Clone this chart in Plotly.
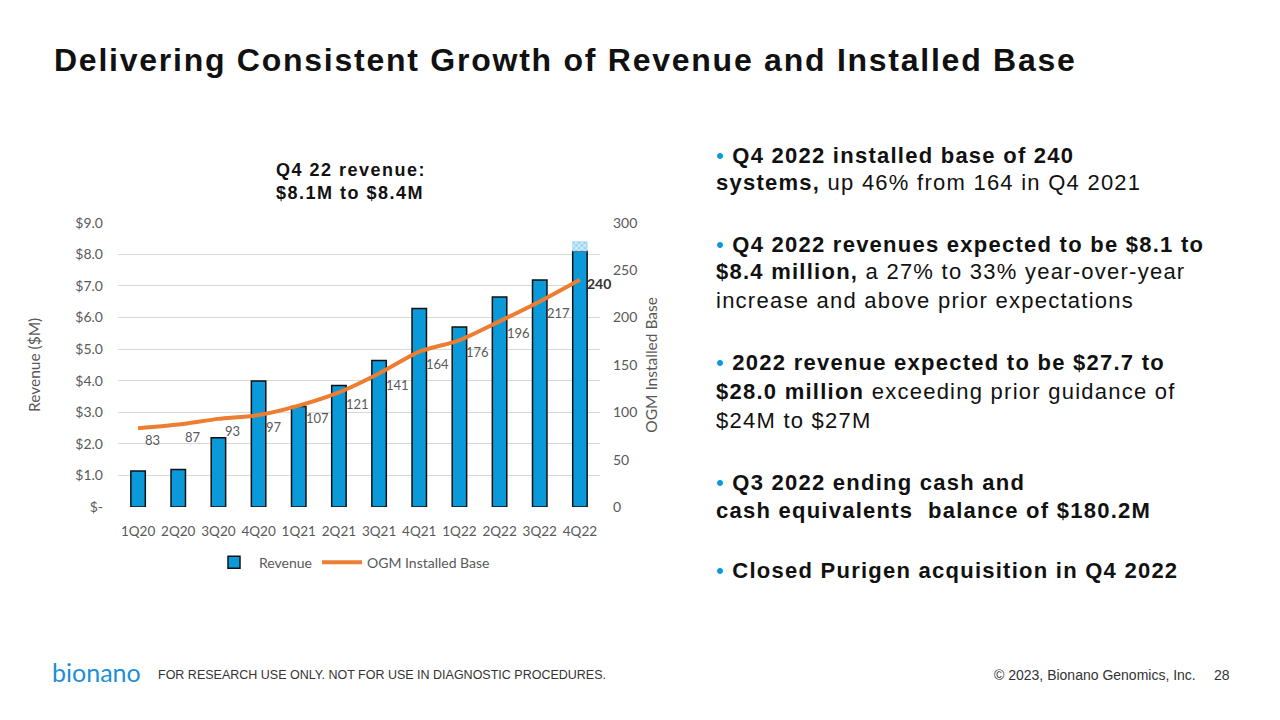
import plotly.graph_objects as go

quarters = ["1Q20", "2Q20", "3Q20", "4Q20", "1Q21", "2Q21", "3Q21", "4Q21", "1Q22", "2Q22", "3Q22", "4Q22"]
revenue = [1.14, 1.19, 2.19, 3.99, 3.18, 3.85, 4.64, 6.29, 5.70, 6.65, 7.19, 8.1]
revenue_range_top = 8.4  # upper end of Q4 22 guidance
installed_base = [83, 87, 93, 97, 107, 121, 141, 164, 176, 196, 217, 240]
left_ticks = [0, 1, 2, 3, 4, 5, 6, 7, 8, 9]
left_ticktext = ["$-", "$1.0", "$2.0", "$3.0", "$4.0", "$5.0", "$6.0", "$7.0", "$8.0", "$9.0"]
right_ticks = [0, 50, 100, 150, 200, 250, 300]

BLUE = "#0A9AD9"
ORANGE = "#ED7D31"
GRAY = "#595959"
AXFONT = "Lato, Open Sans, sans-serif"
TXTFONT = "Liberation Sans, Arial, sans-serif"


def spaced(t, px):
    return f"<span style='letter-spacing:{px}px'>{t}</span>"


fig = go.Figure()
fig.add_trace(go.Bar(
    x=quarters, y=revenue, name="Revenue", width=0.36,
    marker=dict(color=BLUE, line=dict(color="#111111", width=1.5)),
))
fig.add_trace(go.Bar(
    x=[quarters[-1]], y=[revenue_range_top - revenue[-1]], base=[revenue[-1]],
    width=0.36, showlegend=False, hoverinfo="skip",
    marker=dict(color="#BFE6F7", line=dict(color="#7FC8EA", width=0.5),
                pattern=dict(shape="x", fgcolor=BLUE, bgcolor="#CDEBF8", size=4, solidity=0.3)),
))
fig.add_trace(go.Scatter(
    x=quarters, y=installed_base, name="OGM Installed Base", yaxis="y2",
    mode="lines", line=dict(color=ORANGE, width=4, shape="spline", smoothing=0.6),
))

annotations = []
for i, (q, v) in enumerate(zip(quarters, installed_base)):
    last = i == len(quarters) - 1
    annotations.append(dict(
        x=q, y=v, xref="x", yref="y2", text=f"<b>{v}</b>" if last else str(v),
        showarrow=False, xanchor="left", yanchor="middle",
        xshift=5, yshift=-4 if last else -12,
        font=dict(family=AXFONT, size=14 if last else 13, color="#333333" if last else GRAY),
    ))

fig.update_layout(
    barmode="overlay",
    width=1280, height=720,
    margin=dict(l=0, r=0, t=0, b=0),
    paper_bgcolor="white", plot_bgcolor="white",
    showlegend=True,
    legend=dict(orientation="h", x=0.275, y=1 - 567 / 720, xanchor="center", yanchor="middle",
                font=dict(family=AXFONT, size=14, color=GRAY), itemwidth=40,
                traceorder="normal"),
    xaxis=dict(domain=[118 / 1280, 600 / 1280], range=[-0.5, 11.5], type="category",
               showgrid=False, showline=False, ticks="", ticklabelstandoff=15,
               tickfont=dict(family=AXFONT, size=13.5, color=GRAY)),
    yaxis=dict(domain=[1 - 510 / 720, 1 - 219 / 720], range=[0, 9],
               tickvals=left_ticks, ticktext=left_ticktext,
               showgrid=True, gridcolor="#D9D9D9", gridwidth=1, zeroline=False,
               tickfont=dict(family=AXFONT, size=14, color=GRAY), ticks="", ticklabelstandoff=14,
               title=dict(text="Revenue ($M)", font=dict(family=AXFONT, size=15.5, color=GRAY), standoff=30)),
    yaxis2=dict(domain=[1 - 510 / 720, 1 - 219 / 720], range=[0, 300], overlaying="y", side="right",
                anchor="x", tickvals=right_ticks, showgrid=False, zeroline=False,
                tickfont=dict(family=AXFONT, size=14, color=GRAY), ticks="", ticklabelstandoff=12,
                title=dict(text="OGM Installed Base", font=dict(family=AXFONT, size=15.5, color=GRAY), standoff=9)),
)

# Title and chart callout
annotations.append(dict(xref="paper", yref="paper", x=52 / 1280, y=1 - 52 / 720, xanchor="left", yanchor="middle",
                        text="<b>" + spaced("Delivering Consistent Growth of Revenue and Installed Base", 1.75) + "</b>",
                        showarrow=False, font=dict(family=TXTFONT, size=32, color="#111111")))
annotations.append(dict(xref="paper", yref="paper", x=274 / 1280, y=1 - 177 / 720, xanchor="left", yanchor="middle",
                        text="<b>" + spaced("Q4 22 revenue:", 1.5) + "<br>" + spaced("$8.1M to $8.4M", 1.5) + "</b>",
                        align="left", showarrow=False, font=dict(family=TXTFONT, size=18, color="#111111")))

# Right-hand bullet text
dot = f"<span style='color:{BLUE}'>•</span> "
lines = [
    (150, dot + "<b>Q4 2022 installed base of 240</b>"),
    (178, "<b>systems,</b> up 46% from 164 in Q4 2021"),
    (241, dot + "<b>Q4 2022 revenues expected to be $8.1 to</b>"),
    (269, "<b>$8.4 million,</b> a 27% to 33% year-over-year"),
    (299, "increase and above prior expectations"),
    (362, dot + "<b>2022 revenue expected to be $27.7 to</b>"),
    (392, "<b>$28.0 million</b> exceeding prior guidance of"),
    (421, "$24M to $27M"),
    (485, dot + "<b>Q3 2022 ending cash and</b>"),
    (514, "<b>cash equivalents  balance of $180.2M</b>"),
    (575, dot + "<b>Closed Purigen acquisition in Q4 2022</b>"),
]
for y, t in lines:
    annotations.append(dict(xref="paper", yref="paper", x=714 / 1280, y=1 - y / 720, xanchor="left", yanchor="middle",
                            text=spaced(t, 1.25), showarrow=False, font=dict(family=TXTFONT, size=22, color="#111111")))

# Footer
annotations.append(dict(xref="paper", yref="paper", x=50 / 1280, y=1 - 679 / 720, xanchor="left", yanchor="middle",
                        text="bionano", showarrow=False,
                        font=dict(family="Lato, sans-serif", size=25, color="#1B8FD8")))
annotations.append(dict(xref="paper", yref="paper", x=156 / 1280, y=1 - 682 / 720, xanchor="left", yanchor="middle",
                        text="FOR RESEARCH USE ONLY. NOT FOR USE IN DIAGNOSTIC PROCEDURES.", showarrow=False,
                        font=dict(family=TXTFONT, size=12.5, color="#333333")))
annotations.append(dict(xref="paper", yref="paper", x=1198 / 1280, y=1 - 682 / 720, xanchor="right", yanchor="middle",
                        text="© 2023, Bionano Genomics, Inc.", showarrow=False,
                        font=dict(family=TXTFONT, size=14, color="#333333")))
annotations.append(dict(xref="paper", yref="paper", x=1232 / 1280, y=1 - 682 / 720, xanchor="right", yanchor="middle",
                        text="28", showarrow=False,
                        font=dict(family=TXTFONT, size=14, color="#333333")))

fig.update_layout(annotations=annotations)
fig.write_html("out.html")
